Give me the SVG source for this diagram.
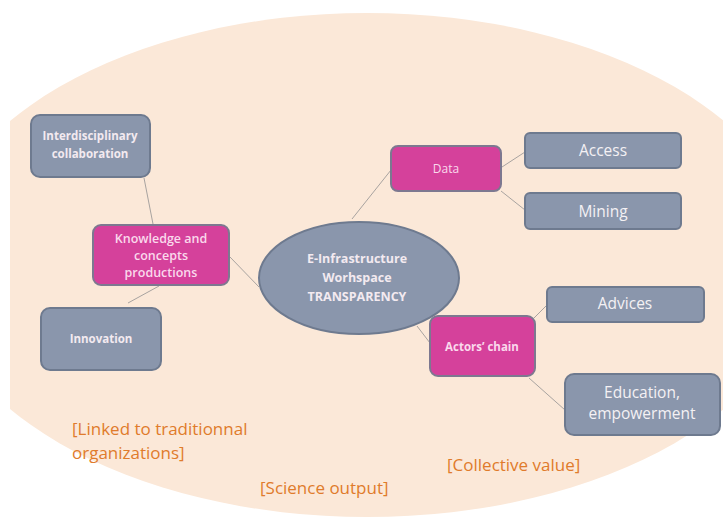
<svg xmlns="http://www.w3.org/2000/svg" width="723" height="517" viewBox="0 0 723 517">
<style>
.g{fill:#8A96AC;stroke:#6E7A8F;stroke-width:2}
.m{fill:#D5419B;stroke:#7D7890;stroke-width:2}
.t{font-family:"Open Sans","Liberation Sans",sans-serif;text-anchor:middle}
.b{font-weight:bold;font-size:11.5px;fill:#F3EAF0}
.mt{font-size:12.5px;fill:#FAD9EC;font-weight:600}
.big{font-size:15.5px;fill:#F4F1F4}
.o{font-family:"Open Sans","Liberation Sans",sans-serif;font-size:17px;fill:#E07B2B}
.c{stroke:#A8A3A0;stroke-width:1;fill:none}
</style>
<defs>
<clipPath id="cp"><rect x="10" y="0" width="713" height="517"/></clipPath>
</defs>
<rect width="723" height="517" fill="#FFFFFF"/>
<ellipse cx="367" cy="265" rx="435" ry="252" fill="#FBE8D8" clip-path="url(#cp)"/>
<g id="connectors">
<line class="c" x1="144" y1="178" x2="153" y2="224"/>
<line class="c" x1="159" y1="286" x2="128" y2="303"/>
<line class="c" x1="230" y1="257" x2="259" y2="287"/>
<line class="c" x1="352" y1="219" x2="391" y2="170"/>
<line class="c" x1="502" y1="167" x2="525" y2="152"/>
<line class="c" x1="501" y1="191" x2="525" y2="210"/>
<line class="c" x1="417" y1="326" x2="430" y2="343"/>
<line class="c" x1="534" y1="318" x2="547" y2="305"/>
<line class="c" x1="529" y1="378" x2="565" y2="410"/>
</g>
<g id="interdisciplinary">
<rect class="g" x="31" y="115" width="119" height="62" rx="9"/>
<text class="t b" x="90" y="140">Interdisciplinary</text>
<text class="t b" x="90" y="158">collaboration</text>
</g>
<g id="knowledge">
<rect class="m" x="93" y="225" width="136" height="60" rx="8"/>
<text class="t mt" x="161" y="243">Knowledge and</text>
<text class="t mt" x="161" y="260">concepts</text>
<text class="t mt" x="161" y="277">productions</text>
</g>
<g id="innovation">
<rect class="g" x="41" y="308" width="120" height="62" rx="9"/>
<text class="t b" x="101" y="343">Innovation</text>
</g>
<g id="center">
<ellipse cx="359" cy="278" rx="100" ry="56" fill="#8A96AC" stroke="#6E7A8F" stroke-width="2"/>
<text class="t b" x="357" y="263" style="font-size:12.5px">E-Infrastructure</text>
<text class="t b" x="357" y="282" style="font-size:12.5px">Worhspace</text>
<text class="t b" x="357" y="301" style="font-size:12.5px">TRANSPARENCY</text>
</g>
<g id="data">
<rect class="m" x="391" y="146" width="110" height="45" rx="7"/>
<text class="t" x="446" y="173" style="font-size:12px;fill:#FAD9EC">Data</text>
</g>
<g id="access">
<rect class="g" x="525" y="133" width="156" height="35" rx="5"/>
<text class="t big" x="603" y="156">Access</text>
</g>
<g id="mining">
<rect class="g" x="525" y="193" width="156" height="36" rx="5"/>
<text class="t big" x="603" y="217">Mining</text>
</g>
<g id="advices">
<rect class="g" x="547" y="287" width="157" height="35" rx="5"/>
<text class="t big" x="625" y="309">Advices</text>
</g>
<g id="actors">
<rect class="m" x="430" y="316" width="105" height="60" rx="8"/>
<text class="t b" x="482" y="351" style="fill:#FAD9EC">Actors’ chain</text>
</g>
<g id="education">
<rect class="g" x="565" y="374" width="155" height="61" rx="9"/>
<text class="t big" x="642" y="398">Education,</text>
<text class="t big" x="642" y="419">empowerment</text>
</g>
<g id="labels">
<text class="o" x="72" y="435">[Linked to traditionnal</text>
<text class="o" x="72" y="459">organizations]</text>
<text class="o" x="260" y="494">[Science output]</text>
<text class="o" x="447" y="471">[Collective value]</text>
</g>
</svg>
